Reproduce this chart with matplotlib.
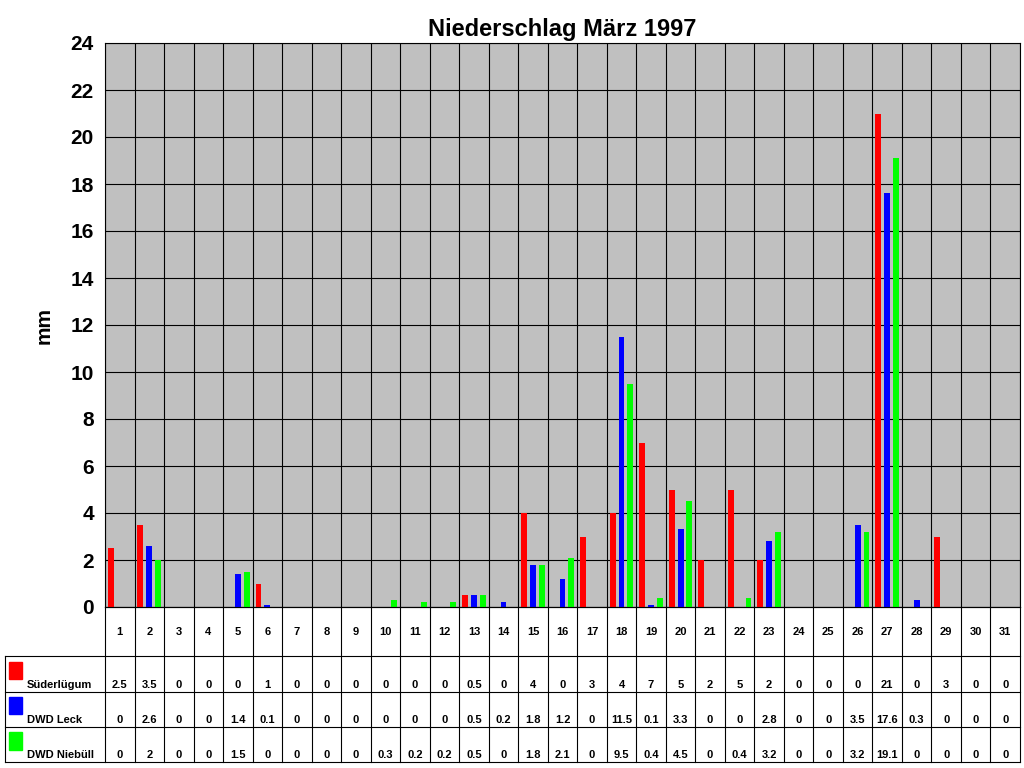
import matplotlib.pyplot as plt
import numpy as np

plt.rcParams['font.family'] = ['Liberation Sans', 'DejaVu Sans']

days = list(range(1, 32))
sueder = [2.5, 3.5, 0, 0, 0, 1, 0, 0, 0, 0, 0, 0, 0.5, 0, 4, 0, 3, 4, 7, 5, 2, 5, 2, 0, 0, 0, 21, 0, 3, 0, 0]
leck = [0, 2.6, 0, 0, 1.4, 0.1, 0, 0, 0, 0, 0, 0, 0.5, 0.2, 1.8, 1.2, 0, 11.5, 0.1, 3.3, 0, 0, 2.8, 0, 0, 3.5, 17.6, 0.3, 0, 0, 0]
niebuell = [0, 2, 0, 0, 1.5, 0, 0, 0, 0, 0.3, 0.2, 0.2, 0.5, 0, 1.8, 2.1, 0, 9.5, 0.4, 4.5, 0, 0.4, 3.2, 0, 0, 3.2, 19.1, 0, 0, 0, 0]
names = ['Süderlügum', 'DWD Leck', 'DWD Niebüll']
colors = ['#FF0000', '#0000FF', '#00FF00']
series = [sueder, leck, niebuell]

W, H = 1024, 768
fig = plt.figure(figsize=(10.24, 7.68), dpi=100)
L, R, T, B = 105, 1020, 43, 607
ax = fig.add_axes([L / W, 1 - B / H, (R - L) / W, (B - T) / H])
ax.set_facecolor('#C0C0C0')
x = np.arange(31)
for k, (vals, c) in enumerate(zip(series, colors)):
    ax.bar(x + 0.2 + 0.3 * k, vals, width=0.2, color=c, zorder=3)
ax.set_xlim(0, 31)
ax.set_ylim(0, 24)
ax.set_yticks(range(0, 25, 2))
ax.set_xticks(range(32))
ax.tick_params(axis='x', length=0, labelbottom=False)
ax.tick_params(axis='y', length=0, labelsize=15, pad=8)
for lab in ax.get_yticklabels():
    lab.set_fontweight('bold')
ax.grid(True, color='black', linewidth=0.8, zorder=1)
for s in ax.spines.values():
    s.set_linewidth(0.8)
ax.set_ylabel('mm', fontsize=15, fontweight='bold', labelpad=12)
ax.set_title('Niederschlag März 1997', fontsize=17, fontweight='bold', pad=5)

# table below
TB = 762
tax = fig.add_axes([L / W, 1 - TB / H, (R - L) / W, (TB - B) / H])
tax.set_xlim(0, 31)
tax.set_ylim(4.4, 0)
tax.axis('off')
rows_y = [0, 1.4, 2.4, 3.4, 4.4]
left = -3.4
for y in rows_y:
    tax.plot([left if y > 0 else 0, 31], [y, y], color='black', lw=0.8, clip_on=False)
for i in range(32):
    tax.plot([i, i], [0, 4.4], color='black', lw=0.8, clip_on=False)
tax.plot([left, left], [1.4, 4.4], color='black', lw=0.8, clip_on=False)
for i, d in enumerate(days):
    tax.text(i + 0.5, 0.7, str(d), ha='center', va='center', fontsize=8, fontweight='bold')
for r, (vals, c, n) in enumerate(zip(series, colors, names)):
    yc = rows_y[r + 1]
    for i, v in enumerate(vals):
        tax.text(i + 0.5, yc + 0.8, f'{v:g}', ha='center', va='center', fontsize=8, fontweight='bold')
    tax.add_patch(plt.Rectangle((left + 0.15, yc + 0.15), 0.45, 0.5, color=c, clip_on=False))
    tax.text(left + 0.75, yc + 0.8, n, ha='left', va='center', fontsize=8, fontweight='bold')

fig.savefig('out.png', dpi=100)
